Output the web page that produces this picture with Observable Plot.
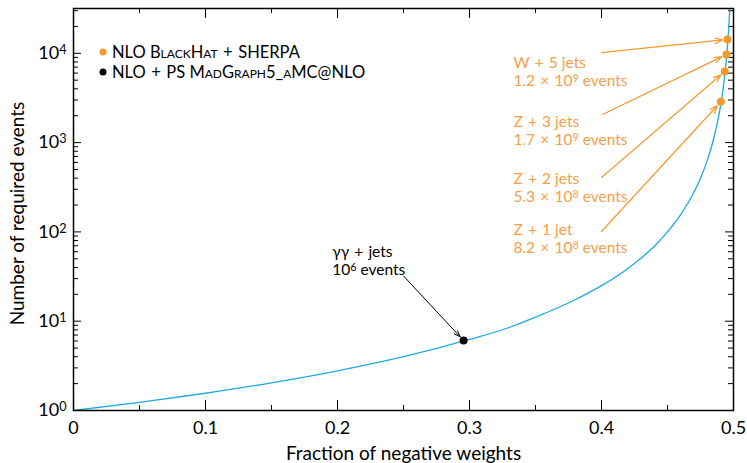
<!DOCTYPE html>
<html>
<head>
<meta charset="utf-8">
<script src="https://cdn.jsdelivr.net/npm/d3@7"></script>
<script src="https://cdn.jsdelivr.net/npm/@observablehq/plot@0.6"></script>
<style>
  html, body { margin: 0; padding: 0; background: #fff; }
  svg { font-family: Lato, "DejaVu Sans", sans-serif; }
</style>
</head>
<body>
<div id="chart"></div>
<script>
// Curve: number of required events vs fraction of negative weights
const fracs  = [0, 0.05, 0.1, 0.15, 0.2, 0.25, 0.3, 0.33, 0.35, 0.38, 0.4, 0.42, 0.44, 0.45, 0.46, 0.47, 0.475, 0.48, 0.485, 0.49, 0.4925, 0.494, 0.495, 0.496, 0.4965, 0.497, 0.4972];
const events = [1, 1.23, 1.56, 2.04, 2.78, 4.0, 6.25, 8.5, 11.1, 17.4, 25, 39, 69, 100, 156, 278, 400, 625, 1111, 2500, 4444, 6944, 10000, 15625, 20400, 27800, 31700];

// NLO BlackHat + SHERPA samples
const sampleNames  = ["W\u2004+\u20045 jets", "Z\u2004+\u20043 jets", "Z\u2004+\u20042 jets", "Z\u2004+\u20041 jet"];
const sampleEvents = ["1.2\u2004×\u200410⁹ events", "1.7\u2004×\u200410⁹ events", "5.3\u2004×\u200410⁸ events", "8.2\u2004×\u200410⁸ events"];
const sampleFrac   = [0.4955, 0.4947, 0.4934, 0.4904];
const sampleN      = [14300, 9700, 6250, 2860];
const labelFrac    = [0.3333, 0.3333, 0.3333, 0.3333];
const labelN       = [6340, 1366, 314, 84];
const arrowFrac    = [0.4, 0.4008, 0.4, 0.4];
const arrowN       = [10200, 2065, 407, 101];

// NLO + PS MadGraph5_aMC@NLO sample
const mgName = ["γγ\u2004+\u2004jets"];
const mgEvents = ["10⁶ events"];
const mgFrac = [0.2955];
const mgN = [6.08];
const mgLabelFrac = [0.196];
const mgLabelN = [47.9];
const mgArrowFrac = [0.2502];
const mgArrowN = [31.9];

// Axis ticks
const xMajor = [0, 0.1, 0.2, 0.3, 0.4, 0.5];
const xMinor = [0.05, 0.15, 0.25, 0.35, 0.45];
const yMajor = [1, 10, 100, 1000, 10000];
const yLabels = ["10⁰", "10¹", "10²", "10³", "10⁴"];
const yMinor = [];
for (const d of [1, 10, 100, 1000, 10000]) for (let k = 2; k <= 9; k++) if (d * k <= 31750) yMinor.push(d * k);

const legendColors = ["#f39a2b", "#000000"];
const legendParts = [
  [["NLO ", false], ["BlackHat", true], ["\u2004+\u2004SHERPA", false]],
  [["NLO\u2004+\u2004PS ", false], ["MadGraph5_aMC@NLO", true]]
];

const curveData = fracs.map((x, i) => ({x, y: events[i]}));
const samples = sampleNames.map((n, i) => ({
  label: n + "\n" + sampleEvents[i],
  x: sampleFrac[i], y: sampleN[i], lx: labelFrac[i], ly: labelN[i], ax: arrowFrac[i], ay: arrowN[i]
}));
const mg = mgName.map((n, i) => ({
  label: n + "\n" + mgEvents[i], x: mgFrac[i], y: mgN[i], lx: mgLabelFrac[i], ly: mgLabelN[i], ax: mgArrowFrac[i], ay: mgArrowN[i]
}));

const W = 747, H = 463, mL = 73, mR = 14, mT = 8, mB = 53;
const iW = W - mL - mR, iH = H - mT - mB;
const orange = "#f39a2b", orangeText = "#f4a048", blue = "#1eaae2";

const plot = Plot.plot({
  width: W, height: H,
  marginLeft: mL, marginRight: mR, marginTop: mT, marginBottom: mB,
  style: {fontFamily: "Lato, 'DejaVu Sans', sans-serif", fontSize: "16px", background: "#fff"},
  x: {domain: [0, 0.5]},
  y: {type: "log", domain: [1, 31750]},
  marks: [
    // ticks (inward, mirrored)
    Plot.ruleX(xMajor, {x: d => d, insetTop: iH - 10, stroke: "#000", strokeWidth: 1}),
    Plot.ruleX(xMajor, {x: d => d, insetBottom: iH - 10, stroke: "#000", strokeWidth: 1}),
    Plot.ruleX(xMinor, {x: d => d, insetTop: iH - 5, stroke: "#000", strokeWidth: 1}),
    Plot.ruleX(xMinor, {x: d => d, insetBottom: iH - 5, stroke: "#000", strokeWidth: 1}),
    Plot.ruleY(yMajor, {y: d => d, insetRight: iW - 8, stroke: "#000", strokeWidth: 1}),
    Plot.ruleY(yMajor, {y: d => d, insetLeft: iW - 8, stroke: "#000", strokeWidth: 1}),
    Plot.ruleY(yMinor, {y: d => d, insetRight: iW - 5, stroke: "#000", strokeWidth: 1}),
    Plot.ruleY(yMinor, {y: d => d, insetLeft: iW - 5, stroke: "#000", strokeWidth: 1}),
    // axes labels
    Plot.axisX({ticks: xMajor, tickSize: 0, tickPadding: 11, tickFormat: d => d === 0 ? "0" : String(d), label: null, fontSize: 18}),
    Plot.axisY({ticks: yMajor, tickSize: 0, tickPadding: 7, tickFormat: d => yLabels[yMajor.indexOf(d)], label: null, fontSize: 18}),
    Plot.text(["Fraction of negative weights"], {frameAnchor: "bottom", lineAnchor: "middle", textAnchor: "middle", dy: 43, fontSize: 19, fill: "#000"}),
    Plot.text(["Number of required events"], {frameAnchor: "left", lineAnchor: "middle", textAnchor: "middle", rotate: -90, dx: -56, dy: 4, fontSize: 19, fill: "#000"}),
    // curve
    Plot.line(curveData, {x: "x", y: "y", stroke: blue, strokeWidth: 1.3, curve: "monotone-x", clip: true}),
    // annotations
    Plot.arrow(samples, {x1: "ax", y1: "ay", x2: "x", y2: "y", stroke: orange, strokeWidth: 1.2, insetEnd: 5, headLength: 10, headAngle: 40}),
    Plot.text(samples, {x: "lx", y: "ly", text: "label", textAnchor: "start", lineAnchor: "middle", lineHeight: 1.15, fill: orangeText, fontSize: 15.5}),
    Plot.dot(samples, {x: "x", y: "y", r: 4, fill: orange}),
    Plot.arrow(mg, {x1: "ax", y1: "ay", x2: "x", y2: "y", stroke: "#000", strokeWidth: 1, insetEnd: 5, headLength: 10, headAngle: 40}),
    Plot.text(mg, {x: "lx", y: "ly", text: "label", textAnchor: "start", lineAnchor: "middle", lineHeight: 1.15, fill: "#000", fontSize: 15.5}),
    Plot.dot(mg, {x: "x", y: "y", r: 4, fill: "#000"}),
    // frame
    Plot.frame({stroke: "#000", strokeWidth: 1.5})
  ]
});

document.getElementById("chart").appendChild(plot);

// Legend inside the frame (top-left)
const svg = d3.select(plot);
const lg = svg.append("g").attr("font-size", 16.5).attr("text-anchor", "start")
  .attr("font-family", "Lato, 'DejaVu Sans', sans-serif");
legendParts.forEach((parts, i) => {
  const cy = mT + 44 + i * 20;
  lg.append("circle").attr("cx", mL + 30).attr("cy", cy).attr("r", 3.5).attr("fill", legendColors[i]);
  const t = lg.append("text").attr("x", mL + 39).attr("y", cy).attr("dy", "0.36em").attr("fill", "#000");
  parts.forEach(([s, sc]) => {
    const ts = t.append("tspan").text(s);
    if (sc) ts.style("font-variant", "small-caps");
  });
});

// Render unicode superscript digits as real raised text
(function supify(root) {
  const map = {"⁰":"0","¹":"1","²":"2","³":"3","⁴":"4","⁵":"5","⁶":"6","⁷":"7","⁸":"8","⁹":"9"};
  const re = /[⁰¹²³⁴⁵⁶⁷⁸⁹]+/g;
  const walker = document.createTreeWalker(root, NodeFilter.SHOW_TEXT);
  const nodes = [];
  while (walker.nextNode()) nodes.push(walker.currentNode);
  for (const n of nodes) {
    const s = n.nodeValue;
    re.lastIndex = 0;
    if (!re.test(s)) continue;
    re.lastIndex = 0;
    const frag = document.createDocumentFragment();
    let last = 0, m;
    while ((m = re.exec(s))) {
      if (m.index > last) frag.appendChild(document.createTextNode(s.slice(last, m.index)));
      const ts = document.createElementNS("http://www.w3.org/2000/svg", "tspan");
      ts.setAttribute("baseline-shift", "40%");
      ts.setAttribute("font-size", "70%");
      ts.textContent = [...m[0]].map(c => map[c]).join("");
      frag.appendChild(ts);
      last = m.index + m[0].length;
    }
    if (last < s.length) frag.appendChild(document.createTextNode(s.slice(last)));
    n.parentNode.replaceChild(frag, n);
  }
})(plot);
</script>
</body>
</html>
